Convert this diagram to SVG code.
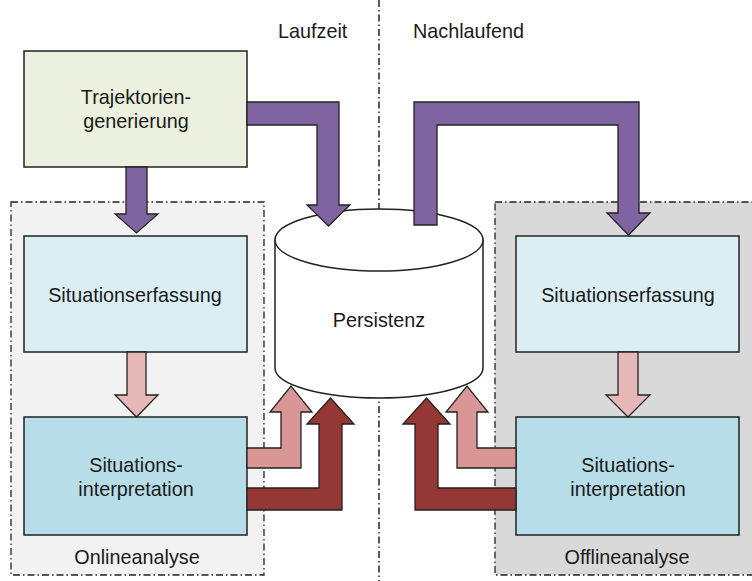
<svg xmlns="http://www.w3.org/2000/svg" width="752" height="581" viewBox="0 0 752 581">
  <style>
    text { font-family: "Liberation Sans", Arial, sans-serif; font-size: 19.8px; fill: #1a1a1a; }
    .c { text-anchor: middle; }
    .group { stroke: #222; stroke-width: 1.3; stroke-dasharray: 7 3 1.5 3; }
    .divider { stroke: #222; stroke-width: 1.5; stroke-dasharray: 7 3 1.5 3; fill: none; }
    .box { stroke: #222; stroke-width: 1.5; }
    .arrow { stroke: #222; stroke-width: 1.3; stroke-linejoin: miter; }
    .purple { fill: #8064a2; }
    .pink { fill: #d99694; }
    .lightpink { fill: #e6b9b8; }
    .darkred { fill: #953735; }
  </style>

  <rect width="752" height="581" fill="#ffffff"/>

  <!-- analysis areas -->
  <g id="onlineanalyse">
    <rect class="group" x="11" y="202" width="253" height="373" fill="#f2f2f2"/>
    <text class="c" x="137" y="564">Onlineanalyse</text>
  </g>
  <g id="offlineanalyse">
    <rect class="group" x="495" y="202" width="262" height="373" fill="#d9d9d9"/>
    <text class="c" x="627" y="564">Offlineanalyse</text>
  </g>

  <!-- runtime / post-processing divider -->
  <line class="divider" x1="379" y1="0" x2="379" y2="581"/>
  <text x="278" y="38">Laufzeit</text>
  <text x="413" y="38">Nachlaufend</text>

  <!-- nodes -->
  <g id="trajektoriengenerierung">
    <rect class="box" x="24" y="51" width="223" height="116" fill="#ebf1de"/>
    <text class="c" x="136" y="104">Trajektorien-</text>
    <text class="c" x="136" y="128">generierung</text>
  </g>
  <g id="situationserfassung-online">
    <rect class="box" x="24" y="236" width="223" height="116" fill="#dbeef4"/>
    <text class="c" x="135" y="302">Situationserfassung</text>
  </g>
  <g id="situationsinterpretation-online">
    <rect class="box" x="24" y="417" width="223" height="118" fill="#b7dee8"/>
    <text class="c" x="136" y="472">Situations-</text>
    <text class="c" x="136" y="496">interpretation</text>
  </g>
  <g id="situationserfassung-offline">
    <rect class="box" x="516" y="236" width="223" height="116" fill="#dbeef4"/>
    <text class="c" x="628" y="302">Situationserfassung</text>
  </g>
  <g id="situationsinterpretation-offline">
    <rect class="box" x="516" y="417" width="223" height="118" fill="#b7dee8"/>
    <text class="c" x="628" y="472">Situations-</text>
    <text class="c" x="628" y="496">interpretation</text>
  </g>
  <g id="persistenz">
    <path class="box" d="M275,240 L275,368 A104,30 0 0 0 483,368 L483,240 Z" fill="#ffffff"/>
    <ellipse class="box" cx="379" cy="240" rx="104" ry="31" fill="#ffffff"/>
    <text class="c" x="379" y="327">Persistenz</text>
  </g>

  <!-- connectors -->
  <g id="connectors">
    <polygon class="arrow purple" points="126,167 147,167 147,214 158,214 136.5,233 115,214 126,214"/>
    <polygon class="arrow purple" points="247,102 339,102 339,205 350,205 328.5,226 307,205 317,205 317,125 247,125"/>
    <polygon class="arrow purple" points="414,225 414,102 639,102 639,213 650,213 628.5,235 607,213 618,213 618,125 437,125 437,225"/>
    <polygon class="arrow lightpink" points="127,352 146,352 146,395 158,395 136.5,417 115,395 127,395"/>
    <polygon class="arrow lightpink" points="618,352 638,352 638,395 650,395 628,417 606,395 618,395"/>
    <polygon class="arrow pink" points="247,448 281,448 281,412 270,412 291,386 312,412 301,412 301,468 247,468"/>
    <polygon class="arrow darkred" points="247,488 319,488 319,424 307,424 330.5,398 354,424 342,424 342,510 247,510"/>
    <polygon class="arrow darkred" points="516,488 438,488 438,424 450,424 426.5,398 403,424 415,424 415,510 516,510"/>
    <polygon class="arrow pink" points="516,448 477,448 477,412 488,412 467,386 446,412 457,412 457,468 516,468"/>
  </g>
</svg>
